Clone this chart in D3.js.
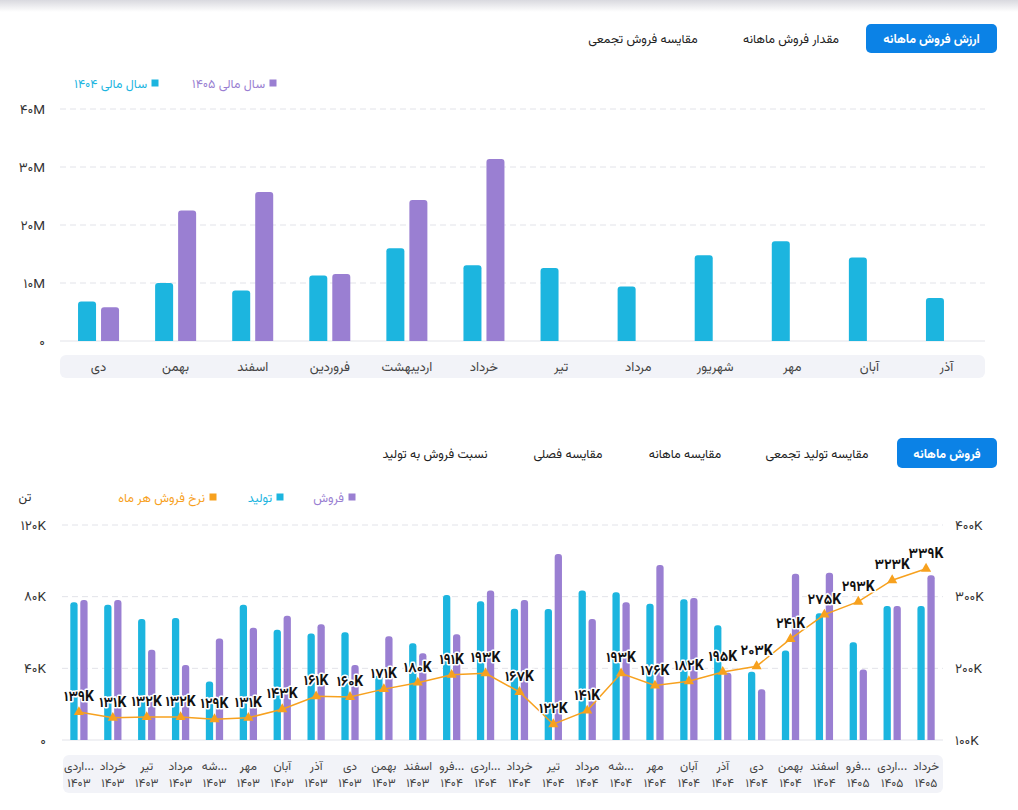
<!DOCTYPE html>
<html lang="fa">
<head>
<meta charset="utf-8">
<script src="https://cdn.jsdelivr.net/npm/d3@7"></script>
<style>
  html, body { margin: 0; padding: 0; background: #fff; }
  svg { display: block; font-family: Vazirmatn, "DejaVu Sans", sans-serif; }
</style>
</head>
<body>
<svg id="chart" width="1018" height="810"></svg>
<script>
// ---------- DATA ----------
const topMonths = ["دی","بهمن","اسفند","فروردین","اردیبهشت","خرداد","تیر","مرداد","شهریور","مهر","آبان","آذر"];
const topSeriesNames = ["سال مالی ۱۴۰۴","سال مالی ۱۴۰۵"];
const topValues1404 = [6.8,10.0,8.7,11.3,16.0,13.05,12.6,9.4,14.8,17.2,14.4,7.4];   // millions
const topValues1405 = [5.8,22.5,25.7,11.55,24.3,31.4,null,null,null,null,null,null];
const topTicks = [0,10,20,30,40];
const topTabs = ["ارزش فروش ماهانه","مقدار فروش ماهانه","مقایسه فروش تجمعی"];

const botMonths = ["اردی...","خرداد","تیر","مرداد","شه...","مهر","آبان","آذر","دی","بهمن","اسفند",
                   "فرو...","اردی...","خرداد","تیر","مرداد","شه...","مهر","آبان","آذر","دی","بهمن","اسفند",
                   "فرو...","اردی...","خرداد"];
const botYears = ["۱۴۰۳","۱۴۰۳","۱۴۰۳","۱۴۰۳","۱۴۰۳","۱۴۰۳","۱۴۰۳","۱۴۰۳","۱۴۰۳","۱۴۰۳","۱۴۰۳",
                  "۱۴۰۴","۱۴۰۴","۱۴۰۴","۱۴۰۴","۱۴۰۴","۱۴۰۴","۱۴۰۴","۱۴۰۴","۱۴۰۴","۱۴۰۴","۱۴۰۴","۱۴۰۴",
                  "۱۴۰۵","۱۴۰۵","۱۴۰۵"];
const production = [76.9,75.5,67.5,68.1,32.6,75.5,61.6,59.5,60.1,36.0,54.0,80.9,77.4,73.3,73.1,83.5,82.4,76.1,78.5,64.0,38.1,49.9,70.7,54.5,74.8,74.8]; // K ton
const sales      = [78.1,78.1,50.4,41.9,56.6,62.7,69.4,64.6,41.9,57.9,48.4,59.0,83.5,78.1,103.8,67.5,76.9,97.7,79.3,37.6,28.3,92.8,93.4,39.3,74.8,91.9];
const saleRate   = [139,131,132,132,129,131,143,161,160,171,180,191,193,167,122,141,193,176,182,195,203,241,275,293,323,339]; // K
const botLeftTicks = [0,40,80,120];
const botRightTicks = [100,200,300,400];
const botTabs = ["فروش ماهانه","مقایسه تولید تجمعی","مقایسه ماهانه","مقایسه فصلی","نسبت فروش به تولید"];
const botLegend = ["فروش","تولید","نرخ فروش هر ماه"];

// ---------- STYLE ----------
const CYAN = "#1cb5df", PURPLE = "#9a7fd2", ORANGE = "#f7a11e", BLUE = "#0b82e6";
const GRID = "#e2e3e9", BAND = "#f2f3f8";
const faDigits = "۰۱۲۳۴۵۶۷۸۹";
const fa = s => String(s).replace(/[0-9]/g, d => faDigits[+d]);

const svg = d3.select("#chart");

// top edge shadow
const defs = svg.append("defs");
const grad = defs.append("linearGradient").attr("id","sh").attr("x1",0).attr("x2",0).attr("y1",0).attr("y2",1);
grad.append("stop").attr("offset","0%").attr("stop-color","#d9d9df");
grad.append("stop").attr("offset","100%").attr("stop-color","#ffffff");
svg.append("rect").attr("x",0).attr("y",0).attr("width",1018).attr("height",12).attr("fill","url(#sh)");

function roundTop(x, y, w, h, r) {
  r = Math.max(0, Math.min(r, h, w/2));
  return `M${x},${y+h}V${y+r}Q${x},${y} ${x+r},${y}H${x+w-r}Q${x+w},${y} ${x+w},${y+r}V${y+h}Z`;
}

function drawTabs(g, tabs, activeBox, centers, y) {
  g.append("rect").attr("x",activeBox[0]).attr("y",activeBox[1]).attr("width",activeBox[2]).attr("height",activeBox[3])
    .attr("rx",5).attr("fill",BLUE);
  g.append("text").attr("x",activeBox[0]+activeBox[2]/2).attr("y",activeBox[1]+activeBox[3]/2+4.5)
    .attr("text-anchor","middle").attr("fill","#fff").attr("font-size",12.5).attr("font-weight","bold").text(tabs[0]);
  tabs.slice(1).forEach((t,i) => {
    g.append("text").attr("x",centers[i]).attr("y",y).attr("text-anchor","middle")
      .attr("fill","#222").attr("font-size",12.5).text(t);
  });
}

// ================= TOP CHART =================
const gTop = svg.append("g");
drawTabs(gTop, topTabs, [866,24,131,29], [791,643], 43);

const tx0 = d3.scaleBand().domain(d3.range(topMonths.length)).range([60,985]).paddingInner(0.468).paddingOuter(0.234);
const tx1 = d3.scaleBand().domain([0,1]).range([0, tx0.bandwidth()]).paddingInner(0.217);
const ty = d3.scaleLinear().domain([0,40]).range([341,109]);

// legend
[[1, PURPLE, 273],[0, CYAN, 155]].forEach(([i,c,x]) => {
  gTop.append("rect").attr("x",x-3.5).attr("y",79.5).attr("width",7).attr("height",7).attr("fill",c);
  gTop.append("text").attr("x",x-8).attr("y",87.5).attr("text-anchor","end").attr("fill",c)
    .attr("font-size",12.5).text(topSeriesNames[i]);
});

// grid
topTicks.forEach(t => {
  gTop.append("line").attr("x1",60).attr("x2",985).attr("y1",ty(t)).attr("y2",ty(t))
    .attr("stroke",GRID).attr("stroke-width",1).attr("stroke-dasharray", t===0 ? null : "6,4");
  gTop.append("text").attr("x",45).attr("y",ty(t)+4.5).attr("text-anchor","end").attr("fill","#333")
    .attr("font-size",13.5).text(t===0 ? "۰" : fa(t)+"M");
});

// band under x labels
gTop.append("rect").attr("x",60).attr("y",355).attr("width",925).attr("height",23).attr("rx",6).attr("fill",BAND);
topMonths.forEach((m,i) => {
  gTop.append("text").attr("x",tx0(i)+tx0.bandwidth()/2).attr("y",371).attr("text-anchor","middle")
    .attr("fill","#444").attr("font-size",13).text(m);
});

[[topValues1404,CYAN,0],[topValues1405,PURPLE,1]].forEach(([vals,c,k]) => {
  gTop.append("g").selectAll("path").data(vals.map((v,i)=>({v,i})).filter(d=>d.v!=null)).join("path")
    .attr("fill",c)
    .attr("d", d => roundTop(tx0(d.i)+tx1(k), ty(d.v), tx1.bandwidth(), ty(0)-ty(d.v), 3));
});

// ================= BOTTOM CHART =================
const gB = svg.append("g");
drawTabs(gB, botTabs, [897,438,100,30], [817,685,568,435], 458);

const bx0 = d3.scaleBand().domain(d3.range(botMonths.length)).range([62,943]).paddingInner(0.49).paddingOuter(0.245);
const bx1 = d3.scaleBand().domain([0,1]).range([0, bx0.bandwidth()]).paddingInner(0.27);
const byL = d3.scaleLinear().domain([0,120]).range([740,525]);
const byR = d3.scaleLinear().domain([100,400]).range([740,525]);

// unit + legend
gB.append("text").attr("x",25).attr("y",501).attr("text-anchor","middle").attr("fill","#333").attr("font-size",12.5).text("تن");
[[0,PURPLE,352],[1,CYAN,280],[2,ORANGE,213]].forEach(([i,c,x]) => {
  gB.append("rect").attr("x",x-3.5).attr("y",493.5).attr("width",7).attr("height",7).attr("fill",c);
  gB.append("text").attr("x",x-8).attr("y",501.5).attr("text-anchor","end").attr("fill",c)
    .attr("font-size",12.5).text(botLegend[i]);
});

botLeftTicks.forEach((t,i) => {
  gB.append("line").attr("x1",62).attr("x2",943).attr("y1",byL(t)).attr("y2",byL(t))
    .attr("stroke",GRID).attr("stroke-width",1).attr("stroke-dasharray", t===0 ? null : "6,4");
  gB.append("text").attr("x",46).attr("y",byL(t)+4.5).attr("text-anchor","end").attr("fill","#333")
    .attr("font-size",13.5).text(t===0 ? "۰" : fa(t)+"K");
});
botRightTicks.forEach(t => {
  gB.append("text").attr("x",955).attr("y",byR(t)+4.5).attr("text-anchor","start").attr("fill","#333")
    .attr("font-size",13.5).text(fa(t)+"K");
});

gB.append("rect").attr("x",63).attr("y",755).attr("width",880).attr("height",38).attr("rx",6).attr("fill",BAND);
botMonths.forEach((m,i) => {
  const cx = bx0(i)+bx0.bandwidth()/2;
  gB.append("text").attr("x",cx).attr("y",769.5).attr("text-anchor","middle").attr("fill","#444").attr("font-size",12).text(m);
  gB.append("text").attr("x",cx).attr("y",787).attr("text-anchor","middle").attr("fill","#444").attr("font-size",12).text(botYears[i]);
});

[[production,CYAN,0],[sales,PURPLE,1]].forEach(([vals,c,k]) => {
  gB.append("g").selectAll("path").data(vals.map((v,i)=>({v,i}))).join("path")
    .attr("fill",c)
    .attr("d", d => roundTop(bx0(d.i)+bx1(k), byL(d.v), bx1.bandwidth(), byL(0)-byL(d.v), 3));
});

const cxB = i => bx0(i)+bx0.bandwidth()/2;
gB.append("path").datum(saleRate)
  .attr("fill","none").attr("stroke",ORANGE).attr("stroke-width",1.5)
  .attr("d", d3.line().x((d,i)=>cxB(i)).y(d=>byR(d)));
gB.append("g").selectAll("path").data(saleRate).join("path")
  .attr("transform",(d,i)=>`translate(${cxB(i)},${byR(d)})`)
  .attr("d", d3.symbol(d3.symbolTriangle, 45)())
  .attr("fill",ORANGE);
gB.append("g").selectAll("text").data(saleRate).join("text")
  .attr("x",(d,i)=>cxB(i)).attr("y",d=>byR(d)-11)
  .attr("text-anchor","middle").attr("font-size",14).attr("font-weight","bold")
  .attr("fill","#111").attr("stroke","#fff").attr("stroke-width",3).attr("paint-order","stroke")
  .attr("stroke-linejoin","round")
  .text(d => fa(d)+"K");
</script>
</body>
</html>
